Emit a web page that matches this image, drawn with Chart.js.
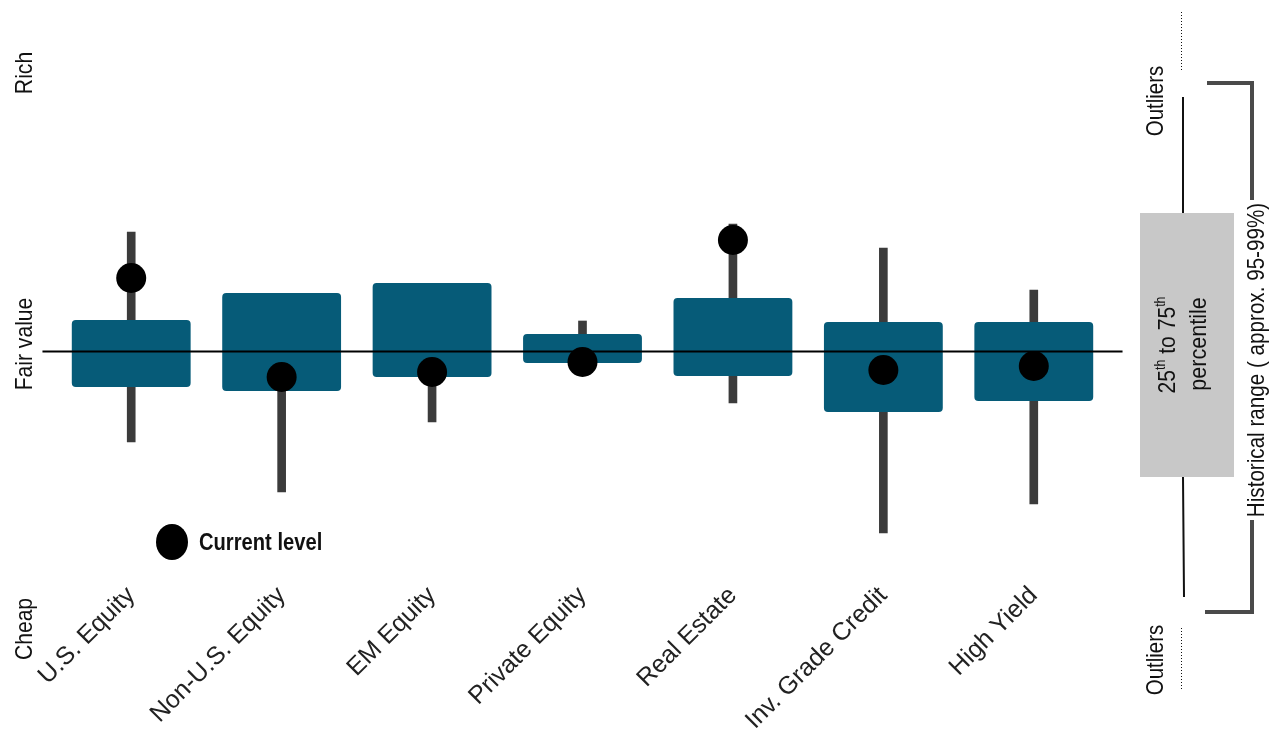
<!DOCTYPE html>
<html>
<head>
<meta charset="utf-8">
<title>Valuation ranges</title>
<script src="https://cdn.jsdelivr.net/npm/chart.js@4.4.0/dist/chart.umd.min.js"></script>
<style>
  html, body { margin: 0; padding: 0; background: #fff; }
  #wrap { width: 1275px; height: 736px; position: relative; }
</style>
</head>
<body>
<div id="wrap"><canvas id="chart"></canvas></div>
<script>
// asset classes along the bottom
const categories = ['U.S. Equity', 'Non-U.S. Equity', 'EM Equity', 'Private Equity', 'Real Estate', 'Inv. Grade Credit', 'High Yield'];

// valuation units, 0 = fair value, + = rich, - = cheap
// 25th to 75th percentile box
const boxHigh = [3.1, 5.8, 6.8, 1.7, 5.3, 2.9, 2.9];
const boxLow = [-3.6, -4.0, -2.6, -1.2, -2.5, -6.1, -5.0];
// historical range (whiskers)
const rangeHigh = [11.9, 5.0, 6.0, 3.0, 12.7, 10.3, 6.1];
const rangeLow = [-9.1, -14.1, -7.1, -1.0, -5.2, -18.2, -15.3];
// current level (dots)
const current = [7.3, -2.6, -2.1, -1.1, 11.1, -1.9, -1.5];

// labels on the left edge, placed on the value scale
const sideLabels = ['Rich', 'Fair value', 'Cheap'];
const sideValues = [27.8, 0.7, -27.8];

const TEAL = '#065b78';
const WHISKER = '#3b3b3b';
const FONT = '"Liberation Sans", Arial, sans-serif';

// condensed text helper (the original uses a narrow face)
function narrowText(ctx, text, x, y, rot, size, weight, sx) {
  ctx.save();
  ctx.translate(x, y);
  ctx.rotate(rot);
  ctx.scale(sx, 1);
  ctx.font = weight + ' ' + size + 'px ' + FONT;
  ctx.textAlign = 'center';
  ctx.textBaseline = 'middle';
  ctx.fillText(text, 0, 0);
  ctx.restore();
}

// line of text with superscripts, centred on x,y, rotated
function superText(ctx, parts, x, y, rot, size, sx) {
  ctx.save();
  ctx.translate(x, y);
  ctx.rotate(rot);
  ctx.scale(sx, 1);
  ctx.textBaseline = 'middle';
  ctx.textAlign = 'left';
  let total = 0;
  parts.forEach(p => {
    ctx.font = (p[1] ? Math.round(size * 0.6) : size) + 'px ' + FONT;
    total += ctx.measureText(p[0]).width;
  });
  let cx = -total / 2;
  parts.forEach(p => {
    ctx.font = (p[1] ? Math.round(size * 0.6) : size) + 'px ' + FONT;
    ctx.fillText(p[0], cx, p[1] ? -size * 0.3 : 0);
    cx += ctx.measureText(p[0]).width;
  });
  ctx.restore();
}

const decor = {
  id: 'decor',
  beforeDraw(chart) {
    const ctx = chart.ctx;
    ctx.save();
    ctx.fillStyle = '#fff';
    ctx.fillRect(0, 0, chart.width, chart.height);
    ctx.restore();
  },
  // fair value line goes over the boxes but under the dots
  beforeDatasetDraw(chart, args) {
    if (args.index !== 2) return;
    const ctx = chart.ctx;
    const x = chart.scales.x, y = chart.scales.y;
    const y0 = Math.round(y.getPixelForValue(0)) + 0.5;
    ctx.save();
    ctx.strokeStyle = '#000';
    ctx.lineWidth = 2;
    ctx.beginPath();
    ctx.moveTo(x.getPixelForValue(-0.59), y0);
    ctx.lineTo(x.getPixelForValue(6.59), y0);
    ctx.stroke();
    ctx.restore();
  },
  afterDraw(chart) {
    const ctx = chart.ctx;
    const y = chart.scales.y;
    ctx.save();
    ctx.fillStyle = '#111';

    // Rich / Fair value / Cheap
    sideLabels.forEach((t, i) => {
      narrowText(ctx, t, 25, y.getPixelForValue(sideValues[i]), -Math.PI / 2, 24, 'normal', 0.88);
    });

    // legend
    ctx.fillStyle = '#000';
    ctx.beginPath();
    ctx.ellipse(172, 542, 16, 18, 0, 0, Math.PI * 2);
    ctx.fill();
    ctx.fillStyle = '#111';
    ctx.save();
    ctx.translate(199, 543);
    ctx.scale(0.84, 1);
    ctx.font = 'bold 24px ' + FONT;
    ctx.textAlign = 'left';
    ctx.textBaseline = 'middle';
    ctx.fillText('Current level', 0, 0);
    ctx.restore();

    // key on the right
    ctx.fillStyle = '#c8c8c8';
    ctx.fillRect(1140, 213, 94, 264);

    ctx.strokeStyle = '#111';
    ctx.lineWidth = 2;
    ctx.beginPath();
    ctx.moveTo(1183, 97); ctx.lineTo(1183, 213);
    ctx.moveTo(1183, 477); ctx.lineTo(1184, 597);
    ctx.stroke();

    ctx.lineWidth = 1;
    ctx.setLineDash([1, 2]);
    ctx.beginPath();
    ctx.moveTo(1181.5, 12); ctx.lineTo(1181.5, 72);
    ctx.moveTo(1181.5, 628); ctx.lineTo(1181.5, 690);
    ctx.stroke();
    ctx.setLineDash([]);

    // bracket for historical range
    ctx.strokeStyle = '#4a4a4a';
    ctx.lineWidth = 4;
    ctx.beginPath();
    ctx.moveTo(1207, 83); ctx.lineTo(1252, 83); ctx.lineTo(1252, 200);
    ctx.moveTo(1252, 520); ctx.lineTo(1252, 612); ctx.lineTo(1205, 612);
    ctx.stroke();

    ctx.fillStyle = '#111';
    narrowText(ctx, 'Outliers', 1156, 101, -Math.PI / 2, 24, 'normal', 0.85);
    narrowText(ctx, 'Outliers', 1156, 660, -Math.PI / 2, 24, 'normal', 0.85);
    narrowText(ctx, 'Historical range ( approx. 95-99%)', 1257, 360, -Math.PI / 2, 24, 'normal', 0.86);

    superText(ctx, [['25', false], ['th', true], [' to 75', false], ['th', true]], 1168, 345, -Math.PI / 2, 24, 0.88);
    narrowText(ctx, 'percentile', 1199, 344, -Math.PI / 2, 24, 'normal', 0.9);
    ctx.restore();
  }
};

new Chart(document.getElementById('chart'), {
  type: 'bar',
  data: {
    labels: categories,
    datasets: [
      {
        label: 'Historical range',
        data: categories.map((c, i) => [rangeLow[i], rangeHigh[i]]),
        backgroundColor: WHISKER,
        barThickness: 8,
        grouped: false,
        order: 2
      },
      {
        label: '25th to 75th percentile',
        data: categories.map((c, i) => [boxLow[i], boxHigh[i]]),
        backgroundColor: TEAL,
        barPercentage: 0.79,
        categoryPercentage: 1,
        borderRadius: 4,
        borderSkipped: false,
        grouped: false,
        order: 1
      },
      {
        type: 'line',
        label: 'Current level',
        data: current,
        showLine: false,
        pointRadius: 15,
        pointHoverRadius: 15,
        pointBackgroundColor: '#000',
        pointBorderWidth: 0,
        order: 0
      }
    ]
  },
  options: {
    responsive: true,
    maintainAspectRatio: false,
    animation: false,
    layout: { padding: { top: 71, left: 56, right: 166, bottom: 0 } },
    plugins: {
      legend: { display: false },
      tooltip: { enabled: false }
    },
    scales: {
      x: {
        offset: true,
        grid: { display: false, drawTicks: false },
        border: { display: false },
        ticks: {
          autoSkip: false,
          minRotation: 45,
          maxRotation: 45,
          padding: 10,
          color: '#222',
          font: { family: FONT, size: 25 }
        },
        afterFit(scale) { scale.height = 165; }
      },
      y: {
        display: false,
        min: -22,
        max: 28
      }
    }
  },
  plugins: [decor]
});
</script>
</body>
</html>
